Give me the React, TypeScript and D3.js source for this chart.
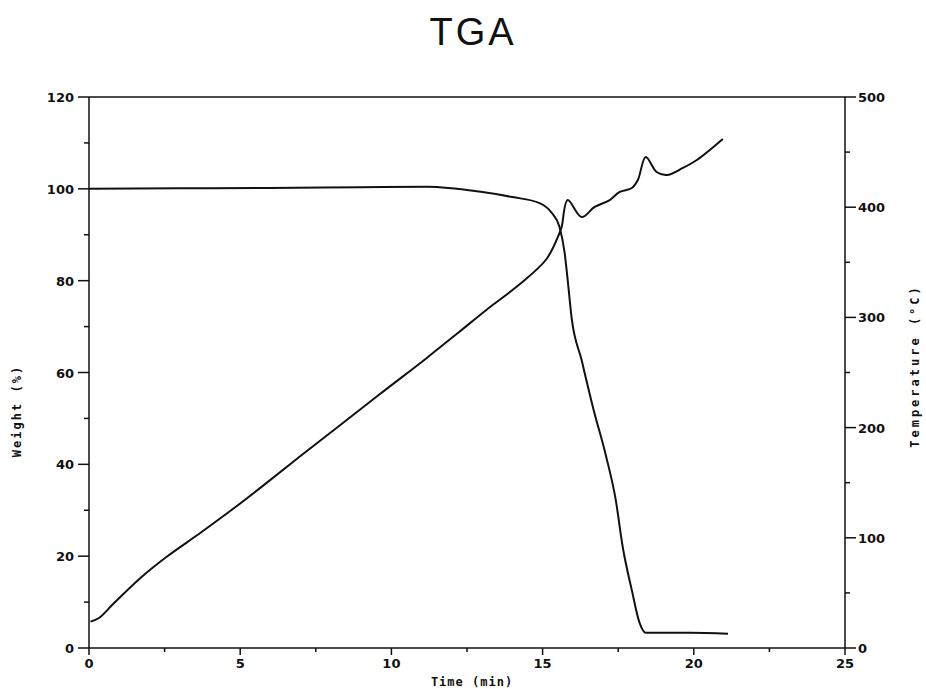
import React from 'react';
import * as d3 from 'd3';

// Weight (%) vs time (min)
const weightTime = [0, 3, 6, 9, 11.2, 12.9, 14.0, 14.9, 15.3, 15.56, 15.73, 15.83, 15.96, 16.29, 16.69, 17.09, 17.42, 17.65, 17.95, 18.21, 18.41, 19.87, 21.13];
const weightVals = [100, 100.1, 100.2, 100.35, 100.45, 99.4, 98.2, 96.9, 94.8, 91.7, 86.0, 80.1, 71.9, 62.7, 51.8, 42.0, 32.2, 22.0, 12.6, 5.4, 3.3, 3.3, 3.1];

// Temperature (°C) vs time (min)
const tempTime = [0.05, 0.33, 0.83, 1.72, 2.58, 3.71, 4.8, 5.79, 6.89, 8.11, 9.6, 11.16, 12.25, 13.15, 14.24, 15.13, 15.56, 15.63, 15.83, 16.29, 16.72, 17.22, 17.55, 17.95, 18.15, 18.41, 18.77, 19.11, 19.64, 20.1, 20.96];
const tempVals = [23.9, 27.2, 40.8, 64.0, 83.0, 105.0, 127.0, 148.0, 172.0, 198.0, 230.0, 263.0, 287.0, 307.0, 330.0, 353.0, 376.6, 382.0, 406.5, 391.1, 400.2, 406.5, 413.8, 417.4, 424.7, 445.6, 431.9, 429.2, 435.6, 442.8, 461.9];

const xTicks = [0, 5, 10, 15, 20, 25];
const xMinor = [2.5, 7.5, 12.5, 17.5, 22.5];
const yLeftTicks = [0, 20, 40, 60, 80, 100, 120];
const yLeftMinor = [10, 30, 50, 70, 90, 110];
const yRightTicks = [0, 100, 200, 300, 400, 500];
const yRightMinor = [50, 150, 250, 350, 450];

const W = 926;
const H = 689;
const left = 89;
const right = 845;
const top = 97;
const bottom = 648;

export default function App() {
  const x = d3.scaleLinear().domain([0, 25]).range([left, right]);
  const yL = d3.scaleLinear().domain([0, 120]).range([bottom, top]);
  const yR = d3.scaleLinear().domain([0, 500]).range([bottom, top]);

  const weightLine = d3.line<number>()
    .x((_, i) => x(weightTime[i]))
    .y(d => yL(d))
    .curve(d3.curveMonotoneX);
  const tempLine = d3.line<number>()
    .x((_, i) => x(tempTime[i]))
    .y(d => yR(d))
    .curve(d3.curveCatmullRom.alpha(0.5));

  const tickFont = { fontFamily: '"DejaVu Sans", sans-serif', fontWeight: 'bold' as const, fontSize: 13 };
  const labelFont = { fontFamily: '"DejaVu Sans Mono", monospace', fontWeight: 'bold' as const, fontSize: 12 };

  return (
    <svg width={W} height={H} style={{ position: 'absolute', left: 0, top: 0, background: '#fff' }}>
      <text x={473} y={45} textAnchor="middle" fontFamily='"Liberation Sans", sans-serif' fontWeight={300} fontSize={38} letterSpacing={3} fill="#111">TGA</text>

      {/* frame */}
      <g stroke="#111" strokeWidth={1.5} fill="none">
        <line x1={left} x2={right} y1={top} y2={top} />
        <line x1={left} x2={right} y1={bottom} y2={bottom} />
        <line x1={left} x2={left} y1={top} y2={bottom} />
        <line x1={right} x2={right} y1={top} y2={bottom} />
      </g>

      {/* bottom axis */}
      <g stroke="#111" strokeWidth={1.5}>
        {xTicks.map(t => <line key={t} x1={x(t)} x2={x(t)} y1={bottom} y2={bottom + 7} />)}
        {xMinor.map(t => <line key={t} x1={x(t)} x2={x(t)} y1={bottom} y2={bottom + 4} />)}
      </g>
      {xTicks.map(t => (
        <text key={t} x={x(t)} y={bottom + 20} textAnchor="middle" {...tickFont} fill="#111">{t}</text>
      ))}
      <text x={472} y={686} textAnchor="middle" {...labelFont} letterSpacing={1} fill="#111">Time (min)</text>

      {/* left axis */}
      <g stroke="#111" strokeWidth={1.5}>
        {yLeftTicks.map(t => <line key={t} x1={left - 11} x2={left} y1={yL(t)} y2={yL(t)} />)}
        {yLeftMinor.map(t => <line key={t} x1={left - 5} x2={left} y1={yL(t)} y2={yL(t)} />)}
      </g>
      {yLeftTicks.map(t => (
        <text key={t} x={left - 15} y={yL(t) + 5} textAnchor="end" {...tickFont} fill="#111">{t}</text>
      ))}
      <text transform={`translate(21,411) rotate(-90)`} textAnchor="middle" {...labelFont} letterSpacing={2} fill="#111">Weight (%)</text>

      {/* right axis */}
      <g stroke="#111" strokeWidth={1.5}>
        {yRightTicks.map(t => <line key={t} x1={right} x2={right + 11} y1={yR(t)} y2={yR(t)} />)}
        {yRightMinor.map(t => <line key={t} x1={right} x2={right + 5} y1={yR(t)} y2={yR(t)} />)}
      </g>
      {yRightTicks.map(t => (
        <text key={t} x={right + 13} y={yR(t) + 5} textAnchor="start" {...tickFont} fill="#111">{t}</text>
      ))}
      <text transform={`translate(919,366) rotate(-90)`} textAnchor="middle" {...labelFont} letterSpacing={3} fill="#111">Temperature (°C)</text>

      {/* curves */}
      <path d={weightLine(weightVals) ?? ''} fill="none" stroke="#111" strokeWidth={2} strokeLinejoin="round" />
      <path d={tempLine(tempVals) ?? ''} fill="none" stroke="#111" strokeWidth={2} strokeLinejoin="round" />
    </svg>
  );
}
